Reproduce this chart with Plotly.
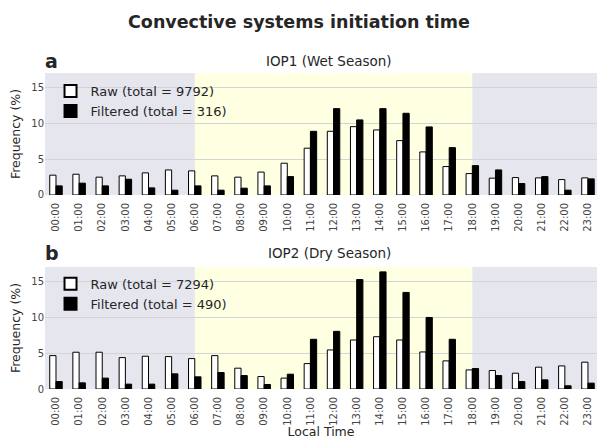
import plotly.graph_objects as go
from plotly.subplots import make_subplots

hours = list(range(24))
hour_labels = [f"{h:02d}:00" for h in hours]

iop1_raw = [2.77, 2.90, 2.49, 2.67, 3.09, 3.50, 3.37, 2.67, 2.49, 3.20, 4.44, 6.54,
            8.90, 9.55, 9.09, 7.60, 6.02, 3.97, 2.99, 2.35, 2.43, 2.39, 2.15, 2.39]
iop1_filt = [1.27, 1.65, 1.27, 2.20, 0.99, 0.67, 1.27, 0.67, 0.95, 1.27, 2.57, 8.90,
             12.07, 10.49, 12.07, 11.42, 9.51, 6.62, 4.10, 3.50, 1.60, 2.57, 0.67, 2.25]
iop2_raw = [4.67, 5.14, 5.14, 4.39, 4.58, 4.53, 4.25, 4.67, 2.91, 1.74, 1.52, 3.55,
            5.46, 6.85, 7.31, 6.85, 5.18, 3.93, 2.67, 2.58, 2.21, 3.05, 3.23, 3.75]
iop2_filt = [1.04, 0.86, 1.52, 0.68, 0.68, 2.12, 1.70, 2.30, 1.88, 0.63, 2.07, 6.95,
             8.06, 15.30, 16.37, 13.50, 10.00, 6.95, 2.86, 1.88, 1.04, 1.28, 0.45, 0.82]

totals = {"IOP1": (9792, 316), "IOP2": (7294, 490)}
panel_titles = ["IOP1 (Wet Season)", "IOP2 (Dry Season)"]
day_start, day_end = 6, 18

FONT = "DejaVu Sans"
TXT = "#262626"
BG = "#E6E6EF"
YEL = "#FFFFE2"
GRID = "#D4D4D8"

fig = make_subplots(rows=2, cols=1, vertical_spacing=0.228)

W = 0.27
panels = [(iop1_raw, iop1_filt, totals["IOP1"], "legend"),
          (iop2_raw, iop2_filt, totals["IOP2"], "legend2")]
for i, (raw, filt, (tr, tf), lg) in enumerate(panels, start=1):
    fig.add_trace(go.Bar(x=hours, y=raw, width=W, offset=-W,
                         marker=dict(color="white", line=dict(color="black", width=1)),
                         name=f"Raw (total = {tr})", legend=lg), row=i, col=1)
    fig.add_trace(go.Bar(x=hours, y=filt, width=W, offset=0,
                         marker=dict(color="black", line=dict(color="black", width=1)),
                         name=f"Filtered (total = {tf})", legend=lg), row=i, col=1)
    fig.add_vrect(x0=day_start, x1=day_end, fillcolor=YEL, opacity=1,
                  line_width=0, layer="below", row=i, col=1)

for i in (1, 2):
    fig.update_xaxes(range=[-0.475, 23.39], tickmode="array", tickvals=hours,
                     ticktext=hour_labels, tickangle=-90, showgrid=False,
                     zeroline=False, ticks="", ticklabelstandoff=5,
                     tickfont=dict(family=FONT, size=10, color="#444"),
                     row=i, col=1)
    fig.update_yaxes(range=[0, 17.05], tickvals=[0, 5, 10, 15], showgrid=True,
                     gridcolor=GRID, gridwidth=1, zeroline=False, ticks="",
                     tickfont=dict(family=FONT, size=10, color="#444"),
                     title=dict(text="Frequency (%)", font=dict(family=FONT, size=12.5, color=TXT),
                                standoff=7),
                     row=i, col=1)
fig.update_xaxes(title=dict(text="Local Time", font=dict(family=FONT, size=12.5, color=TXT),
                            standoff=4), row=2, col=1)

fig.update_layout(
    width=598, height=439,
    margin=dict(l=45, r=1, t=73, b=50),
    barmode="overlay",
    paper_bgcolor="white", plot_bgcolor=BG,
    font=dict(family=FONT, color=TXT),
    title=dict(text="<b>Convective systems initiation time</b>", x=0.5, xanchor="center",
               y=1 - 22 / 439, yanchor="middle", font=dict(family=FONT, size=17.5, color=TXT)),
    legend=dict(x=0.01, y=0.99, xanchor="left", yanchor="top", bgcolor="rgba(0,0,0,0)",
                font=dict(family=FONT, size=13, color=TXT), tracegroupgap=0,
                itemsizing="constant"),
    legend2=dict(x=0.01, y=0.38, xanchor="left", yanchor="top", bgcolor="rgba(0,0,0,0)",
                 font=dict(family=FONT, size=13, color=TXT), tracegroupgap=0,
                 itemsizing="constant"),
    showlegend=True,
)

# panel titles and letters
for yy_px, title, letter in [(61, panel_titles[0], "a"), (253, panel_titles[1], "b")]:
    fig.add_annotation(text=title, xref="paper", yref="paper", x=0.515,
                       y=(389 - yy_px) / 316, xanchor="center", yanchor="middle",
                       showarrow=False, font=dict(family=FONT, size=13.5, color=TXT))
    fig.add_annotation(text=f"<b>{letter}</b>", xref="paper", yref="paper", x=-0.004,
                       y=(389 - yy_px) / 316, xanchor="left", yanchor="middle",
                       showarrow=False, font=dict(family=FONT, size=19, color=TXT))

fig.write_html("out.html")
